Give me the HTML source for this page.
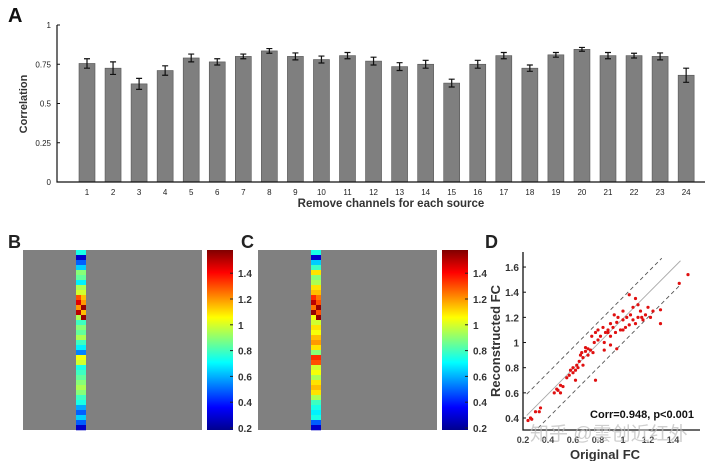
<!DOCTYPE html>
<html><head><meta charset="utf-8"><style>
body{margin:0;background:#fff;}
svg{display:block;font-family:"Liberation Sans",Arial,sans-serif;}
</style></head><body>
<svg id="fig" width="720" height="461" viewBox="0 0 720 461">
<defs>
<linearGradient id="jet" x1="0" y1="1" x2="0" y2="0">
<stop offset="0" stop-color="#00008f"/><stop offset="0.125" stop-color="#0000ff"/>
<stop offset="0.375" stop-color="#00ffff"/><stop offset="0.625" stop-color="#ffff00"/>
<stop offset="0.875" stop-color="#ff0000"/><stop offset="1" stop-color="#800000"/>
</linearGradient>
</defs>
<g id="pa"></g>
<g id="pb"></g>
<g id="pc"></g>
<g id="pd"></g>
</svg>
<script>
const categoriesA=[1,2,3,4,5,6,7,8,9,10,11,12,13,14,15,16,17,18,19,20,21,22,23,24];
const valuesA=[0.755,0.725,0.625,0.71,0.79,0.765,0.80,0.835,0.80,0.78,0.805,0.77,0.735,0.75,0.63,0.75,0.805,0.725,0.81,0.845,0.805,0.805,0.80,0.68];
const errorsA=[0.03,0.04,0.035,0.03,0.025,0.02,0.015,0.015,0.022,0.022,0.02,0.025,0.025,0.025,0.025,0.025,0.02,0.02,0.015,0.012,0.02,0.015,0.022,0.045];
const ticksA=[0,0.25,0.5,0.75,1];
const tickLabelsA=["0","0.25","0.5","0.75","1"];
const bLeft=[0.75,0.3,0.5,0.65,0.9,0.85,0.7,0.95,1.0,1.3,1.45,1.2,1.5,0.95,0.8,0.9,0.85,0.95,0.8,0.7,0.55,1.05,1.0,0.75,0.8,0.85,0.9,0.95,0.9,0.8,0.75,0.6,0.5,0.65,0.5,0.3];
const bRight=[0.75,0.3,0.5,0.65,0.9,0.85,0.7,0.95,1.0,1.15,1.2,1.55,1.15,1.55,0.8,0.9,0.85,0.95,0.8,0.7,0.55,1.05,1.0,0.75,0.8,0.85,0.9,0.95,0.9,0.8,0.75,0.6,0.5,0.65,0.5,0.3];
const cLeft=[0.75,0.3,0.65,0.8,1.1,0.9,0.95,1.1,1.15,1.35,1.5,1.25,1.55,1.05,1.0,1.1,1.05,1.15,1.2,1.1,0.9,1.35,1.3,1.0,1.05,0.95,1.1,1.15,1.1,0.95,0.8,0.75,0.7,0.75,0.5,0.3];
const cRight=[0.75,0.3,0.65,0.8,1.1,0.9,0.95,1.1,1.15,1.25,1.3,1.55,1.3,1.55,1.0,1.1,1.05,1.15,1.2,1.1,0.9,1.35,1.3,1.0,1.05,0.95,1.1,1.15,1.1,0.95,0.8,0.75,0.7,0.75,0.5,0.3];
const cbTicks=[0.2,0.4,0.6,0.8,1,1.2,1.4];
const cbLabels=["0.2","0.4","0.6","0.8","1","1.2","1.4"];
const origFC=[0.24,0.26,0.27,0.3,0.33,0.34,0.45,0.47,0.48,0.5,0.5,0.52,0.55,0.57,0.58,0.6,0.6,0.62,0.63,0.64,0.65,0.66,0.67,0.68,0.7,0.7,0.72,0.72,0.74,0.75,0.76,0.77,0.78,0.8,0.8,0.82,0.84,0.85,0.86,0.88,0.9,0.9,0.92,0.93,0.94,0.95,0.96,0.98,1.0,1.0,1.02,1.03,1.05,1.06,1.08,1.08,1.1,1.12,1.12,1.14,1.15,1.18,1.2,1.22,1.24,1.1,1.05,0.95,0.9,0.85,1.3,1.3,1.45,1.52,0.78,0.68,0.62,1.16,1.0,0.88];
const reconFC=[0.38,0.4,0.39,0.45,0.45,0.48,0.6,0.63,0.62,0.66,0.6,0.65,0.72,0.74,0.78,0.76,0.8,0.78,0.82,0.8,0.85,0.9,0.92,0.88,0.93,0.96,0.95,0.9,0.94,1.05,0.92,1.0,1.08,1.02,1.1,1.05,1.12,1.0,1.08,1.1,1.05,1.15,1.12,1.22,1.08,1.16,1.2,1.1,1.18,1.25,1.12,1.2,1.14,1.22,1.18,1.28,1.15,1.2,1.3,1.25,1.2,1.22,1.28,1.2,1.25,1.35,1.38,0.95,0.98,0.94,1.26,1.15,1.47,1.54,0.7,0.82,0.7,1.18,1.1,1.08];
const dTicks=[0.4,0.6,0.8,1,1.2,1.4,1.6];
const dTickLabels=["0.4","0.6","0.8","1","1.2","1.4","1.6"];
const xdTicks=[0.2,0.4,0.6,0.8,1,1.2,1.4];
const xdTickLabels=["0.2","0.4","0.6","0.8","1","1.2","1.4"];

const NS="http://www.w3.org/2000/svg";
function mk(p,t,a,txt){const e=document.createElementNS(NS,t);for(const k in a)e.setAttribute(k,a[k]);if(txt!==undefined)e.textContent=txt;p.appendChild(e);return e;}
function jet(v){let t=(v-0.2)/1.38;t=Math.max(0,Math.min(1,t));
 const r=Math.max(0,Math.min(1,1.5-Math.abs(4*t-3))),g=Math.max(0,Math.min(1,1.5-Math.abs(4*t-2))),b=Math.max(0,Math.min(1,1.5-Math.abs(4*t-1)));
 return `rgb(${Math.round(r*255)},${Math.round(g*255)},${Math.round(b*255)})`;}

// Panel A
const pa=document.getElementById('pa');
const ax0=57,ax1=705,ay0=182,ay1=25;
const ya=v=>ay0-(v)*(ay0-ay1);
const xa=i=>87+i*26.05;
let e=mk(pa,'text',{x:8,y:22,'font-size':20,'font-weight':'bold',fill:'#111'},'A');

categoriesA.forEach((c,i)=>{
 const b=mk(pa,'rect',{x:xa(i)-8,y:ya(valuesA[i]),width:16,height:ay0-ya(valuesA[i]),fill:'#7f7f7f',stroke:'#555','stroke-width':0.6});
 
 const top=ya(valuesA[i]+errorsA[i]),bot=ya(valuesA[i]-errorsA[i]);
 const eb=mk(pa,'path',{d:`M${xa(i)} ${top}V${bot}M${xa(i)-3} ${top}H${xa(i)+3}M${xa(i)-3} ${bot}H${xa(i)+3}`,stroke:'#111','stroke-width':1.2,fill:'none'});
 
 const t=mk(pa,'text',{x:xa(i),y:ay0+13,'font-size':8,'text-anchor':'middle',fill:'#222'},String(c));
 
});
e=mk(pa,'path',{d:`M${ax0} ${ay1}V${ay0}H${ax1}`,stroke:'#111','stroke-width':1.2,fill:'none'});

ticksA.forEach((v,i)=>{
 mk(pa,'line',{x1:ax0,x2:ax0+3,y1:ya(v),y2:ya(v),stroke:'#111'});
 const t=mk(pa,'text',{x:ax0-6,y:ya(v)+3,'font-size':8,'text-anchor':'end',fill:'#222'},tickLabelsA[i]);
 
});
e=mk(pa,'text',{x:27,y:104,'font-size':11,'font-weight':'bold','text-anchor':'middle',fill:'#333',transform:'rotate(-90 27 104)'},'Correlation');

e=mk(pa,'text',{x:391,y:207,'font-size':11.5,'font-weight':'bold','text-anchor':'middle',fill:'#333'},'Remove channels for each source');


// Panels B and C
function heat(g,label,lx,gx,colx,cbx,L,R){
 let e=mk(g,'text',{x:lx,y:248,'font-size':18,'font-weight':'bold',fill:'#222'},label);
 
 e=mk(g,'rect',{x:gx,y:250,width:179,height:180,fill:'#808080'});
 
 const ch=180/L.length;
 L.forEach((v,i)=>{
  const c=mk(g,'rect',{x:colx,y:250+i*ch,width:5,height:ch+0.3,fill:jet(v)});
  
  const d=mk(g,'rect',{x:colx+5,y:250+i*ch,width:5,height:ch+0.3,fill:jet(R[i])});
  
 });
 e=mk(g,'rect',{x:cbx,y:250,width:26,height:180,fill:'url(#jet)'});
 
 const yc=v=>428-(v-0.2)*129;
 cbTicks.forEach((v,i)=>{
  mk(g,'line',{x1:cbx+23,x2:cbx+26,y1:yc(v),y2:yc(v),stroke:'#222'});
  const t=mk(g,'text',{x:cbx+31,y:yc(v)+4,'font-size':10,'font-weight':'bold',fill:'#333'},cbLabels[i]);
  
 });
}
heat(document.getElementById('pb'),'B',8,23,76,207,bLeft,bRight);
heat(document.getElementById('pc'),'C',241,258,311,442,cLeft,cRight);

// Panel D
const pd=document.getElementById('pd');
const xd=v=>523+(v-0.2)*125, yd=v=>418-(v-0.4)*125.8;
e=mk(pd,'text',{x:485,y:248,'font-size':18,'font-weight':'bold',fill:'#222'},'D');

[[0.36,'4 3'],[0.19,''],[0.0,'4 3']].forEach(([o,da],k)=>{
 const x0=k==2?0.32:0.23,x1=k==0?1.31:1.46;
 const l=mk(pd,'line',{x1:xd(x0),y1:yd(x0+o),x2:xd(x1),y2:yd(x1+o),stroke:k==1?'#aaa':'#555','stroke-width':0.9,'stroke-dasharray':da});
 
});
origFC.forEach((v,i)=>{
 const c=mk(pd,'circle',{cx:xd(v),cy:yd(reconFC[i]),r:1.6,fill:'#e01010'});
 
});
e=mk(pd,'path',{d:'M523 252V430H700',stroke:'#111','stroke-width':1.3,fill:'none'});

dTicks.forEach((v,i)=>{
 mk(pd,'line',{x1:523,x2:526,y1:yd(v),y2:yd(v),stroke:'#111'});
 const t=mk(pd,'text',{x:519,y:yd(v)+4,'font-size':10,'font-weight':'bold','text-anchor':'end',fill:'#333'},dTickLabels[i]);
 
});
xdTicks.forEach((v,i)=>{
 const t=mk(pd,'text',{x:xd(v),y:443,'font-size':9,'font-weight':'bold','text-anchor':'middle',fill:'#444'},xdTickLabels[i]);
 
});
e=mk(pd,'text',{x:500,y:341,'font-size':13,'font-weight':'bold','text-anchor':'middle',fill:'#333',transform:'rotate(-90 500 341)'},'Reconstructed FC');

e=mk(pd,'text',{x:605,y:459,'font-size':13,'font-weight':'bold','text-anchor':'middle',fill:'#333'},'Original FC');

e=mk(pd,'text',{x:694,y:418,'font-size':11,'font-weight':'bold','text-anchor':'end',fill:'#111'},'Corr=0.948, p<0.001');

e=mk(pd,'text',{x:530,y:440,'font-size':19,fill:'#bbb','fill-opacity':0.7,'font-family':'"Liberation Sans","Noto Sans CJK SC",sans-serif'},'知乎 @雲创近红外');

</script>
</body></html>
